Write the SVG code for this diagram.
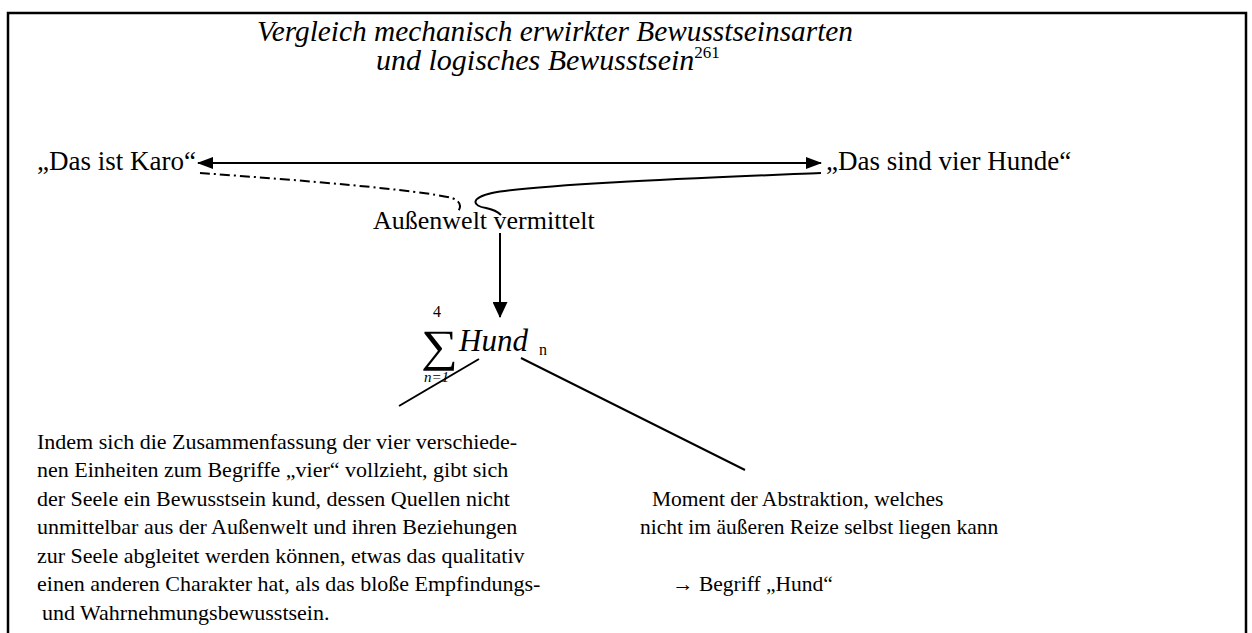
<svg xmlns="http://www.w3.org/2000/svg" width="1252" height="633" viewBox="0 0 1252 633">
<style>
text{font-family:"Liberation Serif","Times New Roman",serif;fill:#000}
.t{font-size:30px;font-style:italic}
.lb{font-size:27px}
.p{font-size:22px}
.q{font-size:21.5px}
.ln{fill:none;stroke:#000;stroke-width:2}
</style>
<defs>
<marker id="ah" viewBox="0 0 16 12" refX="15" refY="6" markerWidth="16" markerHeight="12" markerUnits="userSpaceOnUse" orient="auto-start-reverse">
<path d="M0,0 L16,6 L0,12 z" fill="#000"/>
</marker>
<marker id="av" viewBox="0 0 15 16" refX="7.5" refY="15" markerWidth="15" markerHeight="16" markerUnits="userSpaceOnUse" orient="0">
<path d="M0,0 L15,0 L7.5,16 z" fill="#000"/>
</marker>
</defs>
<path d="M8 633 V13 H1246 V633" fill="none" stroke="#000" stroke-width="2.5"/>
<g id="title">
<text class="t" x="257" y="41" textLength="596" lengthAdjust="spacingAndGlyphs">Vergleich mechanisch erwirkter Bewusstseinsarten</text>
<text class="t" x="376" y="70">und logisches Bewusstsein<tspan dy="-12" style="font-size:17px;font-style:normal">261</tspan></text>
</g>
<g id="karo"><text class="lb" x="37" y="170">„Das ist Karo“</text></g>
<g id="hunde"><text class="lb" x="826" y="170">„Das sind vier Hunde“</text></g>
<g id="aussenwelt"><text x="373" y="229" style="font-size:26px">Außenwelt vermittelt</text></g>
<g id="summe">
<text x="0" y="0" style="font-size:45px" transform="translate(421 361) scale(1.15 1)">∑</text>
<text x="433" y="317" style="font-size:16px">4</text>
<text x="424" y="382" style="font-size:15px;font-style:italic">n=1</text>
<text x="459" y="351" style="font-size:31px;font-style:italic">Hund</text>
<text x="539" y="355" style="font-size:16px">n</text>
</g>
<g id="absatz">
<text class="p" x="37" y="449">Indem sich die Zusammenfassung der vier verschiede-</text>
<text class="p" x="37" y="477">nen Einheiten zum Begriffe „vier“ vollzieht, gibt sich</text>
<text class="p" x="37" y="506">der Seele ein Bewusstsein kund, dessen Quellen nicht</text>
<text class="p" x="37" y="534">unmittelbar aus der Außenwelt und ihren Beziehungen</text>
<text class="p" x="37" y="563">zur Seele abgleitet werden können, etwas das qualitativ</text>
<text class="p" x="37" y="591">einen anderen Charakter hat, als das bloße Empfindungs-</text>
<text class="p" x="42" y="620">und Wahrnehmungsbewusstsein.</text>
</g>
<g id="abstraktion">
<text class="q" x="652" y="506">Moment der Abstraktion, welches</text>
<text class="q" x="640" y="534">nicht  im äußeren Reize selbst liegen kann</text>
<text class="q" x="672" y="591">→ Begriff „Hund“</text>
</g>
<g id="connectors">
<line class="ln" x1="198" y1="163" x2="821" y2="163" marker-start="url(#ah)" marker-end="url(#ah)"/>
<path class="ln" d="M200 173 C300 180 420 190 452 198 Q465 203 457 213" stroke-dasharray="10 4 2 4"/>
<path class="ln" d="M821 173 C700 178 540 184 492 193 C470 198 472 206 486 208 Q496 210 501 215"/>
<line class="ln" x1="500" y1="233" x2="500" y2="317" marker-end="url(#av)"/>
<line class="ln" x1="479" y1="359" x2="399" y2="406"/>
<line class="ln" x1="521" y1="358" x2="745" y2="470"/>
</g>
</svg>
